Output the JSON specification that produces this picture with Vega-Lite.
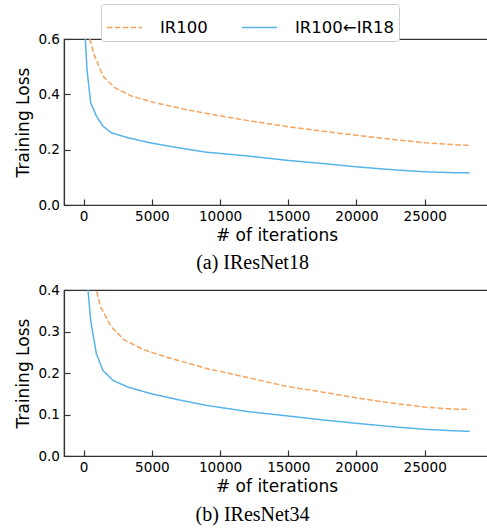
{
  "$schema": "https://vega.github.io/schema/vega-lite/v6.json",
  "padding": {"left": 13, "top": 3, "right": 0, "bottom": 0},
  "background": "white",
  "datasets": {
    "a": [
      {"model": "IR100", "iter": 0, "loss": 1.8},
      {"model": "IR100", "iter": 200, "loss": 0.75},
      {"model": "IR100", "iter": 440, "loss": 0.6},
      {"model": "IR100", "iter": 805, "loss": 0.538},
      {"model": "IR100", "iter": 1415, "loss": 0.466},
      {"model": "IR100", "iter": 2270, "loss": 0.424},
      {"model": "IR100", "iter": 3490, "loss": 0.394},
      {"model": "IR100", "iter": 5200, "loss": 0.37},
      {"model": "IR100", "iter": 7400, "loss": 0.346},
      {"model": "IR100", "iter": 8990, "loss": 0.331},
      {"model": "IR100", "iter": 12050, "loss": 0.305},
      {"model": "IR100", "iter": 15000, "loss": 0.283},
      {"model": "IR100", "iter": 16950, "loss": 0.27},
      {"model": "IR100", "iter": 20000, "loss": 0.252},
      {"model": "IR100", "iter": 22500, "loss": 0.238},
      {"model": "IR100", "iter": 25000, "loss": 0.225},
      {"model": "IR100", "iter": 28300, "loss": 0.215},
      {"model": "IR100←IR18", "iter": 0, "loss": 2.0},
      {"model": "IR100←IR18", "iter": 60, "loss": 0.85},
      {"model": "IR100←IR18", "iter": 120, "loss": 0.6},
      {"model": "IR100←IR18", "iter": 240, "loss": 0.49},
      {"model": "IR100←IR18", "iter": 510, "loss": 0.37},
      {"model": "IR100←IR18", "iter": 925, "loss": 0.322},
      {"model": "IR100←IR18", "iter": 1415, "loss": 0.285},
      {"model": "IR100←IR18", "iter": 2025, "loss": 0.261},
      {"model": "IR100←IR18", "iter": 3250, "loss": 0.243},
      {"model": "IR100←IR18", "iter": 4960, "loss": 0.224},
      {"model": "IR100←IR18", "iter": 6910, "loss": 0.207},
      {"model": "IR100←IR18", "iter": 8990, "loss": 0.191},
      {"model": "IR100←IR18", "iter": 12050, "loss": 0.177},
      {"model": "IR100←IR18", "iter": 15000, "loss": 0.161},
      {"model": "IR100←IR18", "iter": 17500, "loss": 0.15},
      {"model": "IR100←IR18", "iter": 20000, "loss": 0.138},
      {"model": "IR100←IR18", "iter": 22500, "loss": 0.128},
      {"model": "IR100←IR18", "iter": 25000, "loss": 0.12},
      {"model": "IR100←IR18", "iter": 27000, "loss": 0.117},
      {"model": "IR100←IR18", "iter": 28300, "loss": 0.116}
    ],
    "b": [
      {"model": "IR100", "iter": 0, "loss": 1.5},
      {"model": "IR100", "iter": 500, "loss": 0.6},
      {"model": "IR100", "iter": 925, "loss": 0.4},
      {"model": "IR100", "iter": 1245, "loss": 0.359},
      {"model": "IR100", "iter": 2025, "loss": 0.311},
      {"model": "IR100", "iter": 3000, "loss": 0.279},
      {"model": "IR100", "iter": 4470, "loss": 0.255},
      {"model": "IR100", "iter": 6420, "loss": 0.235},
      {"model": "IR100", "iter": 8140, "loss": 0.219},
      {"model": "IR100", "iter": 8990, "loss": 0.211},
      {"model": "IR100", "iter": 12050, "loss": 0.189},
      {"model": "IR100", "iter": 15000, "loss": 0.167},
      {"model": "IR100", "iter": 16950, "loss": 0.157},
      {"model": "IR100", "iter": 20000, "loss": 0.14},
      {"model": "IR100", "iter": 22450, "loss": 0.128},
      {"model": "IR100", "iter": 25000, "loss": 0.118},
      {"model": "IR100", "iter": 27000, "loss": 0.113},
      {"model": "IR100", "iter": 28300, "loss": 0.1125},
      {"model": "IR100←IR18", "iter": 0, "loss": 1.5},
      {"model": "IR100←IR18", "iter": 150, "loss": 0.6},
      {"model": "IR100←IR18", "iter": 315, "loss": 0.4},
      {"model": "IR100←IR18", "iter": 510, "loss": 0.327},
      {"model": "IR100←IR18", "iter": 925, "loss": 0.247},
      {"model": "IR100←IR18", "iter": 1415, "loss": 0.206},
      {"model": "IR100←IR18", "iter": 2150, "loss": 0.182},
      {"model": "IR100←IR18", "iter": 3250, "loss": 0.166},
      {"model": "IR100←IR18", "iter": 4960, "loss": 0.15},
      {"model": "IR100←IR18", "iter": 7160, "loss": 0.134},
      {"model": "IR100←IR18", "iter": 8990, "loss": 0.122},
      {"model": "IR100←IR18", "iter": 12050, "loss": 0.107},
      {"model": "IR100←IR18", "iter": 15000, "loss": 0.0964},
      {"model": "IR100←IR18", "iter": 17500, "loss": 0.087},
      {"model": "IR100←IR18", "iter": 20000, "loss": 0.0787},
      {"model": "IR100←IR18", "iter": 22500, "loss": 0.071},
      {"model": "IR100←IR18", "iter": 25000, "loss": 0.0643},
      {"model": "IR100←IR18", "iter": 27000, "loss": 0.061},
      {"model": "IR100←IR18", "iter": 28300, "loss": 0.0594}
    ]
  },
  "spacing": 8,
  "vconcat": [
    {
      "width": 425,
      "height": 166,
      "data": {"name": "a"},
      "title": {"text": "(a) IResNet18", "orient": "bottom", "anchor": "middle", "frame": "group", "dx": -24, "offset": 10, "font": "Liberation Serif", "fontSize": 20, "fontWeight": "normal", "color": "black"},
      "mark": {"type": "line", "clip": true, "strokeWidth": 1.5},
      "encoding": {
        "x": {"field": "iter", "type": "quantitative", "scale": {"domain": [-1444, 29715], "nice": false, "zero": false}, "axis": {"values": [0, 5000, 10000, 15000, 20000, 25000], "format": "d", "title": "# of iterations"}},
        "y": {"field": "loss", "type": "quantitative", "scale": {"domain": [0, 0.6], "nice": false}, "axis": {"values": [0, 0.2, 0.4, 0.6], "format": ".1f", "title": "Training Loss"}},
        "color": {"field": "model", "type": "nominal", "scale": {"domain": ["IR100", "IR100←IR18"], "range": ["#F4A460", "#56B4E9"]}, "legend": {"title": null}},
        "strokeDash": {"field": "model", "type": "nominal", "scale": {"domain": ["IR100", "IR100←IR18"], "range": [[5.5, 2.4], [1, 0]]}, "legend": {"title": null}}
      }
    },
    {
      "width": 425,
      "height": 166,
      "data": {"name": "b"},
      "title": {"text": "(b) IResNet34", "orient": "bottom", "anchor": "middle", "frame": "group", "dx": -24, "offset": 11, "font": "Liberation Serif", "fontSize": 20, "fontWeight": "normal", "color": "black"},
      "mark": {"type": "line", "clip": true, "strokeWidth": 1.5},
      "encoding": {
        "x": {"field": "iter", "type": "quantitative", "scale": {"domain": [-1444, 29715], "nice": false, "zero": false}, "axis": {"values": [0, 5000, 10000, 15000, 20000, 25000], "format": "d", "title": "# of iterations"}},
        "y": {"field": "loss", "type": "quantitative", "scale": {"domain": [0, 0.4], "nice": false}, "axis": {"values": [0, 0.1, 0.2, 0.3, 0.4], "format": ".1f", "title": "Training Loss"}},
        "color": {"field": "model", "type": "nominal", "scale": {"domain": ["IR100", "IR100←IR18"], "range": ["#F4A460", "#56B4E9"]}, "legend": {"title": null}},
        "strokeDash": {"field": "model", "type": "nominal", "scale": {"domain": ["IR100", "IR100←IR18"], "range": [[5.5, 2.4], [1, 0]]}, "legend": {"title": null}}
      }
    }
  ],
  "resolve": {"scale": {"x": "independent", "y": "independent"}},
  "config": {
    "view": {"stroke": "#333333", "strokeWidth": 1.2},
    "axis": {
      "grid": false,
      "domainColor": "#333333",
      "domainWidth": 1.2,
      "tickColor": "#333333",
      "tickWidth": 1.2,
      "tickSize": -6,
      "labelPadding": 10.5,
      "labelFont": "DejaVu Sans",
      "labelFontSize": 13.6,
      "labelColor": "black",
      "titleFont": "DejaVu Sans",
      "titleFontSize": 17,
      "titleFontWeight": "normal",
      "titleColor": "black"
    },
    "axisX": {"titlePadding": 4},
    "axisY": {"titlePadding": 5.5},
    "legend": {
      "orient": "none",
      "legendX": 37,
      "legendY": -35,
      "direction": "horizontal",
      "columns": 2,
      "symbolType": "stroke",
      "symbolSize": 1225,
      "symbolStrokeWidth": 1.5,
      "labelFont": "DejaVu Sans",
      "labelFontSize": 16.5,
      "labelColor": "black",
      "labelOffset": 17,
      "columnPadding": 31,
      "padding": 5,
      "fillColor": "white",
      "strokeColor": "#cccccc",
      "strokeWidth": 1,
      "cornerRadius": 3
    }
  }
}
